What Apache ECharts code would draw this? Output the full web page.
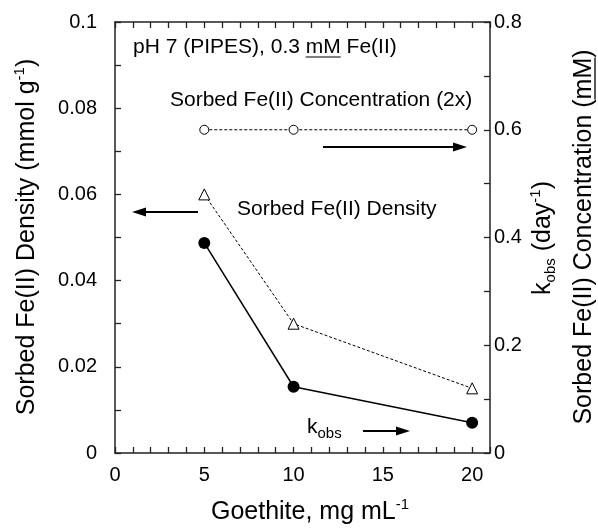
<!DOCTYPE html>
<html>
<head>
<meta charset="utf-8">
<script src="https://cdn.jsdelivr.net/npm/echarts@6/dist/echarts.min.js"></script>
<style>
  html, body { margin: 0; padding: 0; background: #fff; }
  #chart { width: 598px; height: 529px; }
</style>
</head>
<body>
<div id="chart"></div>
<script>
  // goethite loading, mg/mL
  var goethite = [5, 10, 20]
  // k_obs, day^-1 (right axis)
  var kobs = [0.39, 0.123, 0.056]
  // sorbed Fe(II) density, mmol/g (left axis)
  var sorbedDensity = [0.060, 0.030, 0.015]
  // sorbed Fe(II) concentration (2x), mM (right axis)
  var sorbedConc = [0.6, 0.6, 0.6]

  var FONT = '"Liberation Sans", Arial, Helvetica, sans-serif'
  var INK = '#000'
  var FRAME = '#222'

  function pairs(xs, ys) {
    return xs.map(function (x, i) { return [x, ys[i]] })
  }

  function textWidth(str, size) {
    var ctx = document.createElement('canvas').getContext('2d')
    ctx.font = size + 'px ' + FONT
    return ctx.measureText(str).width
  }

  function txt(opts) {
    var style = {
      text: opts.text,
      fontSize: opts.size,
      fontFamily: FONT,
      fill: INK,
      align: opts.align || 'left',
      textAlign: opts.align || 'left',
      verticalAlign: 'middle',
      textVerticalAlign: 'middle'
    }
    if (opts.rich) style.rich = opts.rich
    return { type: 'text', x: opts.x, y: opts.y, rotation: opts.rotation || 0, style: style, z: 10 }
  }

  function arrow(x1, y, x2) {
    var dir = x2 > x1 ? 1 : -1
    return {
      type: 'group', z: 10,
      children: [
        { type: 'line', shape: { x1: x1, y1: y, x2: x2 - dir * 10, y2: y }, style: { stroke: INK, lineWidth: 2 } },
        { type: 'polygon', shape: { points: [[x2, y], [x2 - dir * 14, y - 4.5], [x2 - dir * 14, y + 4.5]] }, style: { fill: INK } }
      ]
    }
  }

  // fresh objects per axis
  function ticks() {
    return { show: true, inside: true, length: 6, lineStyle: { color: FRAME, width: 1.3 } }
  }
  function frameLine() {
    return { show: true, onZero: false, lineStyle: { color: FRAME, width: 1.5 } }
  }

  var supRich = {
    a: { fontSize: 25, fontFamily: FONT, lineHeight: 30, verticalAlign: 'middle' },
    sup: { fontSize: 15, fontFamily: FONT, lineHeight: 15, verticalAlign: 'top' },
    sub: { fontSize: 15, fontFamily: FONT, lineHeight: 15, verticalAlign: 'bottom' }
  }
  var kRich = {
    a: { fontSize: 21, fontFamily: FONT, lineHeight: 28, verticalAlign: 'middle' },
    sub: { fontSize: 15, fontFamily: FONT, lineHeight: 15, verticalAlign: 'bottom' }
  }

  // underline for "mM" in the condition label
  var phPre = 'pH 7 (PIPES), 0.3 '
  var phX = 133, phY = 47
  var phPreW = textWidth(phPre, 21)
  var mmW21 = textWidth('mM', 21)

  // right-hand concentration title (rotated, with underlined mM)
  var concTitle = 'Sorbed Fe(II) Concentration (mM)'
  var concW = textWidth(concTitle, 25)
  var concPreW = textWidth('Sorbed Fe(II) Concentration (', 25)
  var mmW25 = textWidth('mM', 25)

  var chartDom = document.getElementById('chart')
  var myChart = echarts.init(chartDom, null, { renderer: 'canvas' })

  myChart.setOption({
    animation: false,
    backgroundColor: '#fff',
    grid: { left: 115, right: 108, top: 22, bottom: 76, containLabel: false },
    xAxis: [{
      type: 'value', min: 0, max: 21, interval: 1,
      axisLine: frameLine(),
      axisTick: ticks(),
      splitLine: { show: false },
      axisLabel: {
        color: INK, fontSize: 20, fontFamily: FONT, margin: 12,
        formatter: function (v) { return v % 5 === 0 ? String(v) : '' }
      }
    }, {
      type: 'value', min: 0, max: 21, interval: 1, position: 'top',
      axisLine: frameLine(),
      axisTick: ticks(),
      splitLine: { show: false },
      axisLabel: { show: false }
    }],
    yAxis: [{
      type: 'value', min: 0, max: 0.1, interval: 0.01, position: 'left',
      axisLine: frameLine(),
      axisTick: ticks(),
      splitLine: { show: false },
      axisLabel: {
        color: INK, fontSize: 20, fontFamily: FONT, margin: 18,
        formatter: function (v) {
          var r = Math.round(v * 100)
          return r % 2 === 0 ? String(+(r / 100).toFixed(2)) : ''
        }
      }
    }, {
      type: 'value', min: 0, max: 0.8, interval: 0.1, position: 'right',
      axisLine: frameLine(),
      axisTick: ticks(),
      splitLine: { show: false },
      axisLabel: {
        color: INK, fontSize: 20, fontFamily: FONT, margin: 4,
        formatter: function (v) {
          var r = Math.round(v * 10)
          return r % 2 === 0 ? String(+(r / 10).toFixed(1)) : ''
        }
      }
    }],
    series: [{
      name: 'Sorbed Fe(II) Concentration (2x)',
      type: 'line', yAxisIndex: 1,
      data: pairs(goethite, sorbedConc),
      symbol: 'circle', symbolSize: 9,
      itemStyle: { color: '#fff', borderColor: INK, borderWidth: 1 },
      lineStyle: { color: INK, width: 1, type: [3, 2] },
      z: 3
    }, {
      name: 'Sorbed Fe(II) Density',
      type: 'line', yAxisIndex: 0,
      data: pairs(goethite, sorbedDensity),
      symbol: 'triangle', symbolSize: 11,
      itemStyle: { color: '#fff', borderColor: INK, borderWidth: 1 },
      lineStyle: { color: INK, width: 1, type: [3, 2] },
      z: 3
    }, {
      name: 'kobs',
      type: 'line', yAxisIndex: 1,
      data: pairs(goethite, kobs),
      symbol: 'circle', symbolSize: 12,
      itemStyle: { color: INK, borderColor: INK, borderWidth: 0 },
      lineStyle: { color: INK, width: 1.5 },
      z: 4
    }],
    graphic: [
      // condition label
      txt({ text: 'pH 7 (PIPES), 0.3 mM Fe(II)', size: 21, x: phX, y: phY }),
      { type: 'line', z: 10, shape: { x1: phX + phPreW, y1: phY + 10, x2: phX + phPreW + mmW21, y2: phY + 10 }, style: { stroke: INK, lineWidth: 1.2 } },
      // series annotations
      txt({ text: 'Sorbed Fe(II) Concentration (2x)', size: 21, x: 170, y: 100 }),
      arrow(323, 147, 467),
      txt({ text: 'Sorbed Fe(II) Density', size: 21, x: 237, y: 209 }),
      arrow(198, 212, 132),
      txt({ text: '{a|k}{sub|obs}', size: 21, x: 307, y: 427, rich: kRich }),
      arrow(363, 431, 410),
      // axis titles
      txt({ text: '{a|Goethite, mg mL}{sup|-1}', size: 25, x: 310, y: 512, align: 'center', rich: supRich }),
      txt({ text: '{a|Sorbed Fe(II) Density (mmol g}{sup|-1}{a|)}', size: 25, x: 27, y: 237, align: 'center', rotation: Math.PI / 2, rich: supRich }),
      txt({ text: '{a|k}{sub|obs}{a| (day}{sup|-1}{a|)}', size: 25, x: 543, y: 238, align: 'center', rotation: Math.PI / 2, rich: supRich }),
      {
        type: 'group', z: 10, x: 584, y: 237 + concW / 2, rotation: Math.PI / 2,
        children: [
          txt({ text: concTitle, size: 25, x: 0, y: 0 }),
          { type: 'line', shape: { x1: concPreW, y1: 11, x2: concPreW + mmW25, y2: 11 }, style: { stroke: INK, lineWidth: 1.3 } }
        ]
      }
    ]
  })
</script>
</body>
</html>
